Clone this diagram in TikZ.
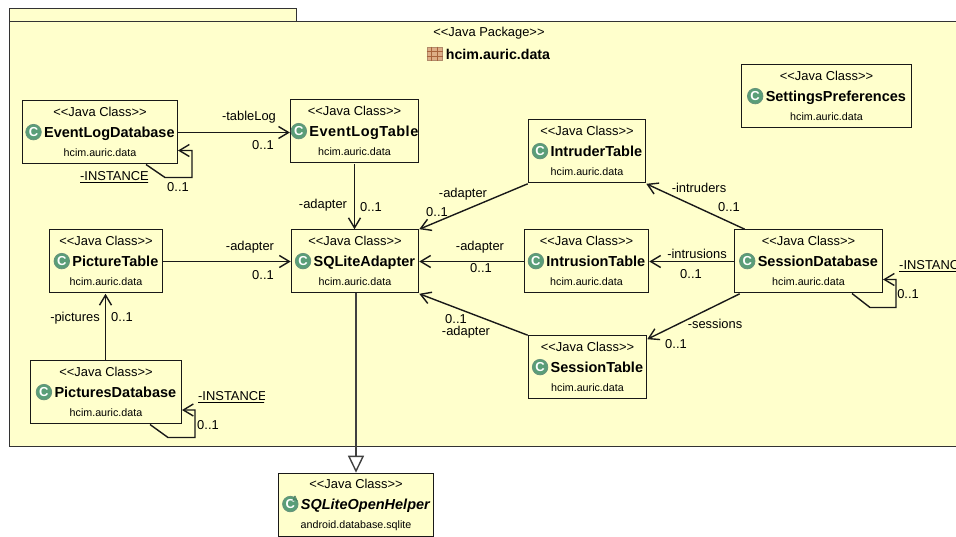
\documentclass[tikz,border=0pt]{standalone}
\usepackage{fontspec}
\setmainfont{Liberation Sans}
\usetikzlibrary{arrows.meta}
\definecolor{notebg}{HTML}{FFFFCC}
\definecolor{iconfill}{HTML}{5A9E78}
\definecolor{gridfill}{HTML}{DDAE86}
\definecolor{gridline}{HTML}{A8643C}
\tikzset{
    classbox/.style={draw=black!90, line width=1.6pt, fill=notebg, minimum height=63pt, inner sep=0pt, align=center, font=\fontsize{12.9}{19.5}\selectfont},
    iconball/.style={circle, draw=iconfill!65!gray, line width=0.8pt, fill=iconfill, text=white, minimum width=15.5pt, minimum height=15.5pt, inner sep=0pt, font=\fontsize{13}{13}\selectfont\bfseries},
    iconmark/.style={draw=none, fill=none, text=iconfill!80!black, minimum width=0pt, minimum height=0pt, inner sep=0pt, font=\fontsize{7.5}{7.5}\selectfont\bfseries},
    pkgbox/.style={draw=black!80, line width=1.6pt, fill=notebg},
    tag/.style={inner sep=0pt, font=\fontsize{12.9}{14}\selectfont},
    assoc/.style={draw=black!90, line width=1.4pt, transform canvas={yshift=-0.5pt}, -{Straight Barb[length=10pt,width=12pt]}},
    extends/.style={draw=black!75, line width=1.4pt, -{Triangle[open,length=17pt,width=16pt,fill=white]}}
}
\newcommand{\classicon}{\tikz[baseline=-5pt]\node[iconball] (ic) {C};}
\newcommand{\abstracticon}{\tikz[baseline=-5pt]{\node[iconball] (ic) {C}; \node[iconmark] (im) at ([xshift=-1pt,yshift=-1pt]ic.north east) {A};}}
\newcommand{\classtext}[3]{<{}<Java Class>{}>\\[1pt]{\fontsize{14.5}{19.5}\selectfont\bfseries #1\,#2}\\{\fontsize{10.7}{19.5}\selectfont #3}}
\newcommand{\instancetag}[4]{\begin{scope}\clip (#2,#3-10) rectangle (#4,#3+10); \node[tag, anchor=west] (#1) at (#2,#3) {\underline{-INSTANCE}}; \end{scope}}
\begin{document}
\begin{tikzpicture}[x=1pt, y=-1pt]
    \useasboundingbox (0,0) rectangle (956,536);
    % package
    \draw[pkgbox] (9.5,8.5) rectangle (296.5,21.5);
    \draw[pkgbox] (9.5,21.5) rectangle (962,446.5);
    \node[tag] (pkgkind) at (489,33) {<{}<Java Package>{}>};
    \node[tag, font=\fontsize{14.2}{16}\selectfont\bfseries] (pkgname) at (498,54) {hcim.auric.data};
    \filldraw[draw=gridfill!80!black, fill=gridfill, line width=0.6pt] (427,47) rectangle (442,60);
    \draw[gridline, line width=0.9pt] (431.5,46.5) -- (431.5,60.5) (437.5,46.5) -- (437.5,60.5) (426.5,51.5) -- (442.5,51.5) (426.5,56) -- (442.5,56);
    % classes
    \node[classbox, minimum width=155pt] (logdb) at (100,132) {\classtext{\classicon}{EventLogDatabase}{hcim.auric.data}};
    \node[classbox, minimum width=126pt] (logtable) at (354.5,131) {\classtext{\classicon}{\addfontfeature{LetterSpace=3.5}EventLogTable}{hcim.auric.data}};
    \node[classbox, minimum width=117pt] (intruder) at (587,151) {\classtext{\classicon}{IntruderTable}{hcim.auric.data}};
    \node[classbox, minimum width=170pt] (settings) at (826.5,96) {\classtext{\classicon}{SettingsPreferences}{hcim.auric.data}};
    \node[classbox, minimum width=113pt] (picture) at (106,261) {\classtext{\classicon}{PictureTable}{hcim.auric.data}};
    \node[classbox, minimum width=127pt] (adapter) at (355,261) {\classtext{\classicon}{SQLiteAdapter}{hcim.auric.data}};
    \node[classbox, minimum width=124pt] (intrusion) at (586.5,261) {\classtext{\classicon}{IntrusionTable}{hcim.auric.data}};
    \node[classbox, minimum width=148pt] (sessiondb) at (808.5,261) {\classtext{\classicon}{SessionDatabase}{hcim.auric.data}};
    \node[classbox, minimum width=118pt] (session) at (587.5,367) {\classtext{\classicon}{SessionTable}{hcim.auric.data}};
    \node[classbox, minimum width=151pt] (picturesdb) at (106,392) {\classtext{\classicon}{PicturesDatabase}{hcim.auric.data}};
    \node[classbox, minimum width=155pt] (helper) at (356,505) {\classtext{\abstracticon}{\itshape SQLiteOpenHelper}{android.database.sqlite}};
    % associations
    \coordinate (logdbout) at (146,164);
    \coordinate (logdbin) at (178,150);
    \coordinate (picturesout) at (150,424);
    \coordinate (picturesin) at (182,409.5);
    \coordinate (sessionout) at (852,293);
    \coordinate (sessionin) at (883,279);
    \draw[assoc] (logdb.east) -- (logdb.east -| logtable.west);
    \draw[assoc] (logtable.south) -- (logtable.south |- adapter.north);
    \draw[assoc] (picture.east) -- (adapter.west);
    \draw[assoc] ([xshift=-0.5pt]picturesdb.north) -- ([xshift=-0.5pt]picture.south);
    \draw[assoc] (intruder.south west) -- (adapter.north east);
    \draw[assoc] (intrusion.west) -- (adapter.east);
    \draw[assoc] (session.north west) -- (adapter.south east);
    \draw[assoc] ([xshift=11pt]sessiondb.north west) -- (intruder.south east);
    \draw[assoc] (sessiondb.west) -- (intrusion.east);
    \draw[assoc] ([xshift=6pt]sessiondb.south west) -- ([yshift=-4pt]session.north east);
    \draw[assoc] (logdbout) -- ++(19,13) -- ++(27,0) |- (logdbin);
    \draw[assoc] (picturesout) -- ++(18,13) -- ++(27,0) |- (picturesin);
    \draw[assoc] (sessionout) -- ++(18,14) -- ++(26,0) |- (sessionin);
    \draw[extends] (adapter.south -| helper.north) -- (helper.north);
    % labels
    \node[tag] (taglog) at (249,117) {-tableLog};
    \node[tag] (taglogn) at (263,145) {0..1};
    \node[tag] (adapterlog) at (323,205) {-adapter};
    \node[tag] (adapterlogn) at (371,207) {0..1};
    \node[tag] (adapterpic) at (250,247) {-adapter};
    \node[tag] (adapterpicn) at (263,275) {0..1};
    \node[tag] (tagpics) at (75,318) {-pictures};
    \node[tag] (tagpicsn) at (122,317) {0..1};
    \node[tag] (adapterintruder) at (463,194) {-adapter};
    \node[tag] (adapterintrudern) at (437,212) {0..1};
    \node[tag] (adapterintrusion) at (480,247) {-adapter};
    \node[tag] (adapterintrusionn) at (481,268) {0..1};
    \node[tag] (adaptersessionn) at (456,319) {0..1};
    \node[tag] (adaptersession) at (466,332) {-adapter};
    \node[tag] (tagintruders) at (699,188) {-intruders};
    \node[tag] (tagintrudersn) at (729,207) {0..1};
    \node[tag] (tagintrusions) at (697,254) {-intrusions};
    \node[tag] (tagintrusionsn) at (691,274) {0..1};
    \node[tag] (tagsessions) at (715,324) {-sessions};
    \node[tag] (tagsessionsn) at (676,344) {0..1};
    \instancetag{instlog}{80}{177}{148}
    \node[tag] (instlogn) at (178,187) {0..1};
    \instancetag{instpics}{198}{397}{264}
    \node[tag] (instpicsn) at (208,425) {0..1};
    \instancetag{instsession}{899}{266}{960}
    \node[tag] (instsessionn) at (908,294) {0..1};
\end{tikzpicture}
\end{document}
